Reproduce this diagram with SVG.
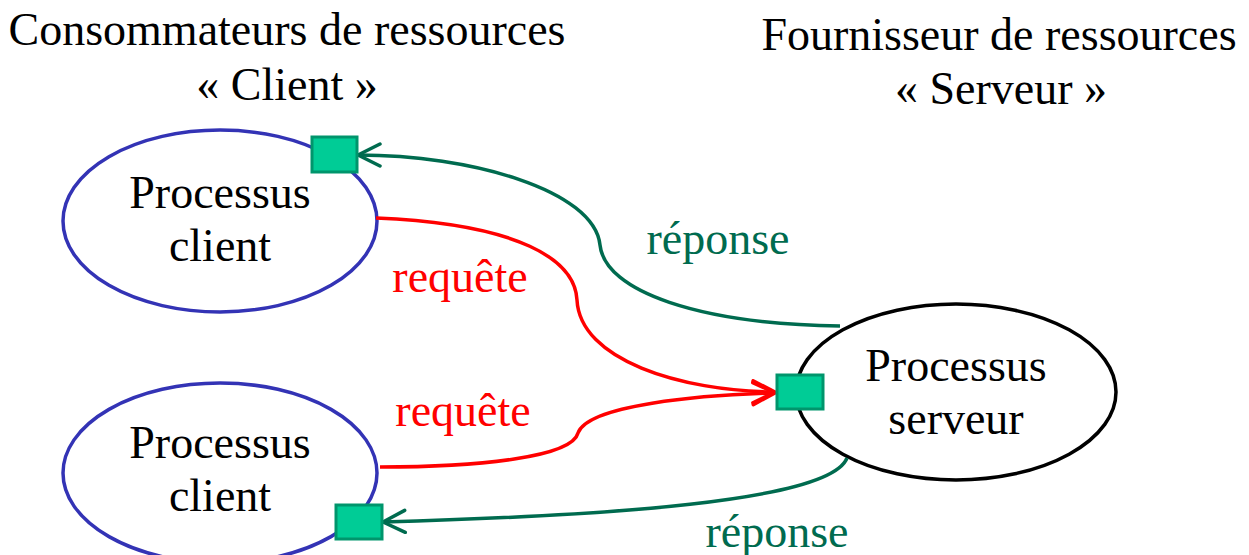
<svg xmlns="http://www.w3.org/2000/svg" width="1249" height="555" viewBox="0 0 1249 555">
  <style>
    text { font-family: "Liberation Serif", "Times New Roman", serif; font-size: 46px; text-anchor: middle; }
    .dark { fill: #000000; }
    .green { fill: #006B4F; }
    .red { fill: #FF0000; }
    .client { fill: #FFFFFF; stroke: #3333B5; stroke-width: 3.5; }
    .server { fill: #FFFFFF; stroke: #000000; stroke-width: 3.5; }
    .port { fill: #00CC96; stroke: #00956C; stroke-width: 3; }
    .req { fill: none; stroke: #FF0000; stroke-width: 3.5; }
    .resp { fill: none; stroke: #006B4F; stroke-width: 3.5; }
  </style>
  <defs>
    <marker id="arrowRed" viewBox="0 0 26 26" refX="24" refY="13" markerWidth="26" markerHeight="26" markerUnits="userSpaceOnUse" orient="auto">
      <path d="M 2,2 L 24,13 L 2,24" fill="none" stroke="#FF0000" stroke-width="3.5" stroke-linecap="round" stroke-linejoin="round"/>
    </marker>
    <marker id="arrowGreen" viewBox="0 0 26 26" refX="24" refY="13" markerWidth="26" markerHeight="26" markerUnits="userSpaceOnUse" orient="auto">
      <path d="M 2,2 L 24,13 L 2,24" fill="none" stroke="#006B4F" stroke-width="3.5" stroke-linecap="round" stroke-linejoin="round"/>
    </marker>
  </defs>

  <!-- column headings -->
  <g id="headings">
    <text class="dark" x="287" y="45">Consommateurs de ressources</text>
    <text class="dark" x="287" y="100">« Client »</text>
    <text class="dark" x="999" y="50">Fournisseur de ressources</text>
    <text class="dark" x="1001" y="104">« Serveur »</text>
  </g>

  <!-- processes -->
  <g id="client1">
    <ellipse class="client" cx="220" cy="221" rx="157" ry="91"/>
    <text class="dark" x="220" y="208">Processus</text>
    <text class="dark" x="220" y="261">client</text>
  </g>
  <g id="client2">
    <ellipse class="client" cx="220" cy="473" rx="157" ry="90"/>
    <text class="dark" x="220" y="458">Processus</text>
    <text class="dark" x="220" y="511">client</text>
  </g>
  <g id="server">
    <ellipse class="server" cx="956" cy="392" rx="160" ry="88"/>
    <text class="dark" x="956" y="381">Processus</text>
    <text class="dark" x="956" y="434">serveur</text>
  </g>

  <!-- connectors -->
  <g id="connectors">
    <path class="resp" d="M 840,326 C 700,324 605,292 600,245 C 594,190 470,155 358,155" marker-end="url(#arrowGreen)"/>
    <path class="req" d="M 376,218 C 520,224 575,260 577,300 C 580,360 680,391 775,392" marker-end="url(#arrowRed)"/>
    <path class="req" d="M 380,467 C 480,467 572,457 578,433 C 588,405 700,395 775,393" marker-end="url(#arrowRed)"/>
    <path class="resp" d="M 847,458 C 830,502 600,516 383,522" marker-end="url(#arrowGreen)"/>
  </g>

  <!-- connector labels -->
  <g id="labels">
    <text class="green" x="718" y="254">réponse</text>
    <text class="red" x="460" y="292">requête</text>
    <text class="red" x="463" y="426">requête</text>
    <text class="green" x="777" y="547">réponse</text>
  </g>

  <!-- ports -->
  <g id="port-client1">
    <rect class="port" x="312" y="137" width="45" height="35"/>
  </g>
  <g id="port-server">
    <rect class="port" x="777" y="375" width="46" height="34"/>
  </g>
  <g id="port-client2">
    <rect class="port" x="336" y="505" width="46" height="34"/>
  </g>
</svg>
